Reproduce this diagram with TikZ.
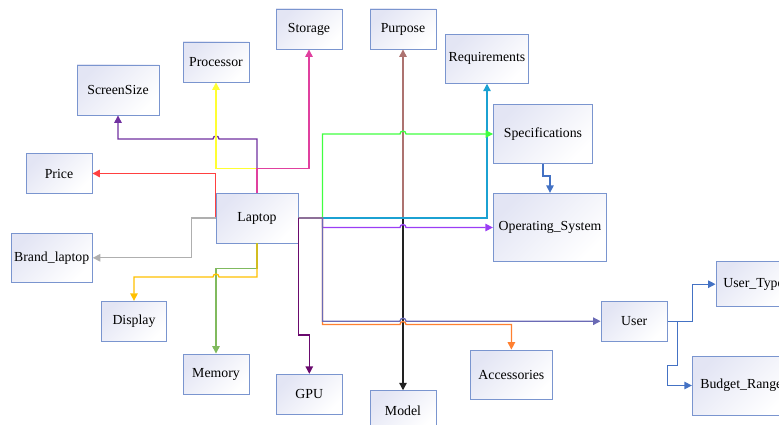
\documentclass[tikz,border=0pt]{standalone}
\usepackage{fontspec}
\setmainfont{Liberation Serif}
\usetikzlibrary{arrows.meta}

\definecolor{boxline}{HTML}{7A95CF}
\definecolor{boxfill}{HTML}{E3E5F4}
\definecolor{cScreen}{HTML}{7030A0}
\definecolor{cProc}{HTML}{FFFF33}
\definecolor{cPrice}{HTML}{FF4040}
\definecolor{cStor}{HTML}{E0409F}
\definecolor{cBrand}{HTML}{AFAFAF}
\definecolor{cDisp}{HTML}{FFC000}
\definecolor{cMem}{HTML}{80BA5E}
\definecolor{cGPU}{HTML}{6A0A6E}
\definecolor{cSpec}{HTML}{40FF40}
\definecolor{cPurp}{HTML}{AD7370}
\definecolor{cModel}{HTML}{222222}
\definecolor{cReq}{HTML}{1BA1D2}
\definecolor{cOS}{HTML}{9B3DF5}
\definecolor{cAcc}{HTML}{FF8030}
\definecolor{cUser}{HTML}{6A6AB5}
\definecolor{cBlue}{HTML}{4472C4}

\begin{document}
\begin{tikzpicture}[x=1pt,y=-1pt,
  box/.style={draw=boxline, line width=0.9pt, left color=boxfill, right color=white,
    shading angle=45, inner sep=0pt, font=\fontsize{13.8}{16}\selectfont},
  link/.style={line width=1.3pt, -{Triangle[length=7.5pt,width=7.5pt]}},
]
\useasboundingbox (0,0) rectangle (779,425);

% boxes
\node[box, minimum width=82pt,   minimum height=50pt]   (laptop)         at (257,218)     {Laptop};
\node[box, minimum width=82pt,   minimum height=50pt]   (screensize)     at (118,90)      {ScreenSize};
\node[box, minimum width=66pt,   minimum height=40pt]   (processor)      at (216,62)      {Processor};
\node[box, minimum width=66pt,   minimum height=40pt]   (price)          at (59,173.5)    {Price};
\node[box, minimum width=66pt,   minimum height=40pt]   (storage)        at (309,29)      {Storage};
\node[box, minimum width=66pt,   minimum height=40pt]   (purpose)        at (403,29)      {Purpose};
\node[box, minimum width=82.6pt, minimum height=49pt]   (requirements)   at (487,58.8)    {Requirements};
\node[box, minimum width=99pt,   minimum height=59pt]   (specifications) at (543,134)     {Specifications};
\node[box, minimum width=113.4pt,minimum height=68.4pt] (os)             at (550,227.5)   {Operating\_System};
\node[box, minimum width=81.3pt, minimum height=49pt]   (brand)          at (51.7,257.8)  {Brand\_laptop};
\node[box, minimum width=65.7pt, minimum height=40pt]   (display)        at (134,321.3)   {Display};
\node[box, minimum width=66pt,   minimum height=40pt]   (memory)         at (216,374)     {Memory};
\node[box, minimum width=66pt,   minimum height=40pt]   (gpu)            at (309.3,394.3) {GPU};
\node[box, minimum width=66pt,   minimum height=40pt]   (model)          at (403,410.7)   {Model};
\node[box, minimum width=82.7pt, minimum height=49.3pt] (accessories)    at (511.4,374.7) {Accessories};
\node[box, minimum width=66.3pt, minimum height=39.7pt] (user)           at (634.2,321.2) {User};
\node[box, minimum width=75pt,   minimum height=45pt]   (usertype)       at (753.5,284.2) {User\_Type};
\node[box, minimum width=98pt,   minimum height=59pt]   (budget)         at (741.3,385.5) {Budget\_Range};

% connectors above and left of Laptop
\draw[link, cScreen] (laptop.north) |- (219,139)
  arc[start angle=0, end angle=-180, radius=3] -| (screensize.south);
\draw[link, cProc] (laptop.north) -- ++(0,-24) -| (processor.south);
\draw[link, cStor] (laptop.north) -- ++(0,-24) -| (storage.south);
\draw[link, cPrice] (laptop.west) |- (price.east);
\draw[link, cBrand] (laptop.west) -- ++(-24,0) |- (brand.east);

% connectors below Laptop
\draw[link, cMem] (laptop.south) -- ++(0,25) -| (memory.north);
\draw[link, cDisp] (laptop.south) |- (219,277)
  arc[start angle=0, end angle=-180, radius=3] -| (display.north);

% connectors to the right of Laptop
\draw[link, cPurp] (laptop.east) -| (purpose.south);
\draw[link, cModel] (laptop.east) -| (model.north);
\draw[link, cReq] (laptop.east) -| (requirements.south);
\draw[link, cSpec] (laptop.east) -- ++(24,0) |- (400,134)
  arc[start angle=180, end angle=360, radius=3] -- (specifications.west);
\draw[link, cOS] (laptop.east) -- ++(24,0) |- (400,227.5)
  arc[start angle=180, end angle=360, radius=3] -- (os.west);
\draw[link, cAcc] (laptop.east) -- ++(24,0) |- (400,324.5)
  arc[start angle=180, end angle=360, radius=3] -| (accessories.north);
\draw[link, cUser] (laptop.east) -- ++(24,0) |- (400,321.2)
  arc[start angle=180, end angle=360, radius=3] -- (user.west);
\draw[link, cGPU] (laptop.east) -- ++(0,117) -| (gpu.north);

% second-level connectors
\draw[link, cBlue] (specifications.south) -- ++(0,12) -| (os.north);
\draw[link, cBlue] (user.east) -- ++(25,0) |- (usertype.west);
\draw[link, cBlue] (user.east) -- ++(10,0) -- ++(0,44) -- ++(-10,0) |- (budget.west);
\end{tikzpicture}
\end{document}
